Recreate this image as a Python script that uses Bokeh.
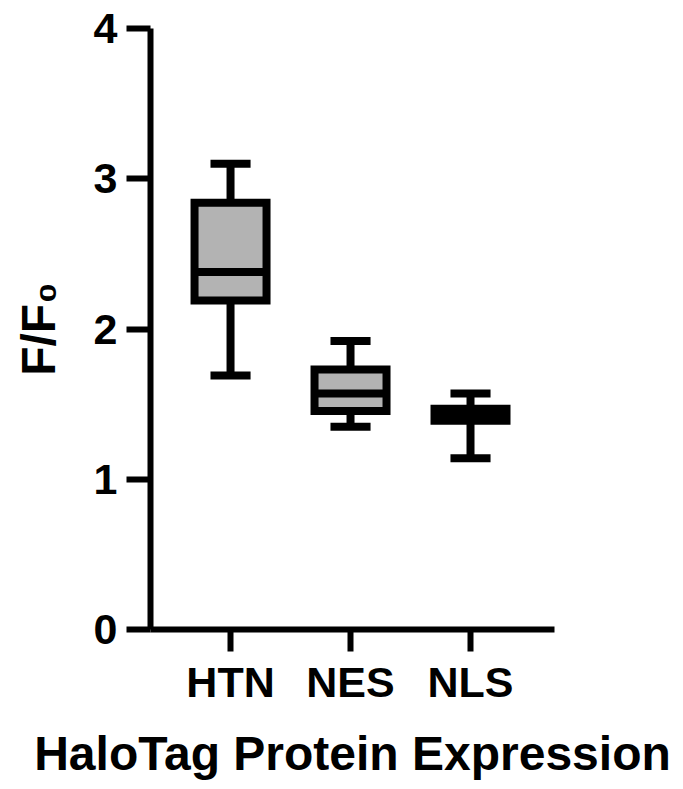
from bokeh.plotting import figure
from bokeh.models import Range1d, FixedTicker, ColumnDataSource
from bokeh.transform import dodge
from bokeh.embed import file_html
from bokeh.resources import INLINE

# ---- data ----
categories = ["HTN", "NES", "NLS"]
whisker_low = [1.69, 1.35, 1.14]
q1 = [2.19, 1.455, 1.39]
median = [2.38, 1.57, 1.43]
q3 = [2.84, 1.73, 1.47]
whisker_high = [3.10, 1.92, 1.57]
y_ticks = [0, 1, 2, 3, 4]

xs = list(range(1, len(categories) + 1))
src = ColumnDataSource(dict(x=xs, cat=categories, lo=whisker_low, q1=q1,
                            med=median, q3=q3, hi=whisker_high))

FONT = "Liberation Sans"
LW = 8

p = figure(width=683, height=789, output_backend="svg", toolbar_location=None,
           x_range=Range1d(0.333, 3.7), y_range=Range1d(0, 4),
           min_border_left=150, min_border_right=129,
           min_border_top=28, min_border_bottom=160)

# whiskers
p.segment(x0="x", y0="lo", x1="x", y1="q1", line_width=LW, line_color="black", source=src)
p.segment(x0="x", y0="q3", x1="x", y1="hi", line_width=LW, line_color="black", source=src)
# caps
p.segment(x0=dodge("x", -0.167), y0="lo", x1=dodge("x", 0.167), y1="lo",
          line_width=LW, line_color="black", source=src)
p.segment(x0=dodge("x", -0.167), y0="hi", x1=dodge("x", 0.167), y1="hi",
          line_width=LW, line_color="black", source=src)
# boxes
p.vbar(x="x", width=0.6, bottom="q1", top="q3", fill_color="#b3b3b3",
       line_color="black", line_width=LW, line_join="miter", source=src)
# medians
p.segment(x0=dodge("x", -0.3), y0="med", x1=dodge("x", 0.3), y1="med",
          line_width=LW, line_color="black", source=src)

# axes styling
p.xgrid.grid_line_color = None
p.ygrid.grid_line_color = None
p.outline_line_color = None

p.yaxis.ticker = FixedTicker(ticks=y_ticks)
p.xaxis.ticker = FixedTicker(ticks=xs)
p.xaxis.major_label_overrides = {x: c for x, c in zip(xs, categories)}

for ax in (p.xaxis[0], p.yaxis[0]):
    ax.axis_line_width = 6
    ax.axis_line_color = "black"
    ax.major_tick_line_width = 6
    ax.major_tick_line_color = "black"
    ax.major_tick_in = 0
    ax.minor_tick_line_color = None
    ax.major_label_text_font = FONT
    ax.major_label_text_font_style = "bold"
    ax.major_label_text_font_size = "43px"
    ax.major_label_text_color = "black"
    ax.axis_label_text_font = FONT
    ax.axis_label_text_font_style = "bold"
    ax.axis_label_text_font_size = "48px"
    ax.axis_label_text_color = "black"

p.yaxis.major_tick_out = 24
p.yaxis.major_label_standoff = 9
p.yaxis.axis_label = "F/F₀"
p.yaxis.axis_label_standoff = 26

p.xaxis.major_tick_out = 22
p.xaxis.major_label_standoff = 6
p.xaxis.axis_label = "HaloTag Protein Expression"
p.xaxis.axis_label_standoff = 18

open("out.html", "w").write(file_html(p, INLINE))
